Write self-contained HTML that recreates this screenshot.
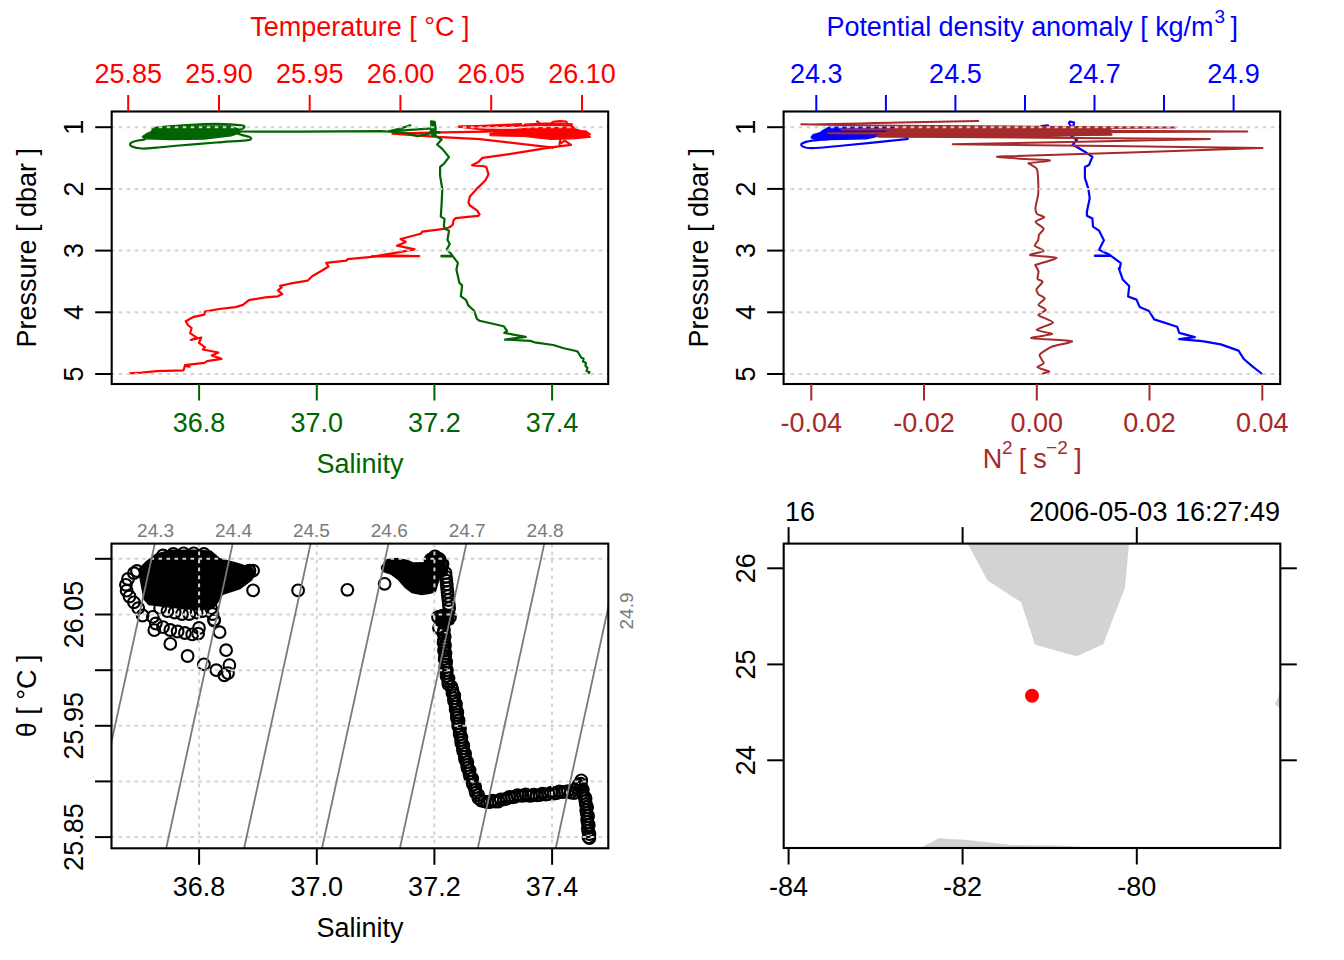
<!DOCTYPE html>
<html><head><meta charset="utf-8"><style>html,body{margin:0;padding:0;background:#fff;}svg{display:block;}</style></head>
<body><svg width="1344" height="960" viewBox="0 0 1344 960" font-family="Liberation Sans, sans-serif">
<rect width="1344" height="960" fill="#fff"/>
<clipPath id="c1"><rect x="111.7" y="111.5" width="496.50000000000006" height="272.5"/></clipPath>
<g clip-path="url(#c1)">
<polyline points="129.9,373.3 141.8,372.6 156.6,371.1 183.4,370.4 184.9,365.9 189.4,366.6 184.9,365.1 204.3,362.9 207.2,361.1 221.4,358.8 211.7,355.5 218.4,352.5 202.8,349.5 205.0,347.3 199.0,342.8 201.3,337.6 190.9,339.9 196.8,337.6 190.1,333.2 191.6,328.0 187.9,325.0 185.7,321.2 193.8,316.8 204.3,314.6 205.0,311.6 219.1,309.0 235.5,307.1 243.0,304.9 248.9,300.1 265.3,297.4 277.9,296.3 282.3,294.1 277.9,290.4 281.6,287.4 280.1,285.9 289.8,283.7 307.6,280.7 312.1,276.2 322.5,270.3 328.5,266.5 326.2,262.8 346.3,260.6 347.8,259.1 371.6,256.9 393.9,253.2 414.8,249.4 396.9,245.7 405.8,242.0 400.6,239.0 420.7,233.8 422.2,231.6 446.0,228.6 449.8,227.1 452.7,224.8 453.5,220.4 455.7,218.1 478.0,215.9 479.5,214.4 477.3,210.7 469.9,205.5 468.4,202.5 469.9,196.5 478.0,187.6 485.5,180.2 488.5,174.2 486.2,166.8 482.5,166.0 472.1,165.3 478.0,162.3 482.5,157.9 509.3,154.1 551.0,147.4 571.0,144.8 564.8,140.6 559.5,144.1 560.4,139.7" fill="none" stroke="#ff0000" stroke-width="2.2" stroke-linejoin="round" stroke-linecap="round"/>
<polyline points="371.6,256.4 419.2,256.2 385.0,255.3" fill="none" stroke="#ff0000" stroke-width="2.2" stroke-linejoin="round" stroke-linecap="round"/>
<polyline points="553.2,147.7 480.0,139.2 437.0,136.9 392.5,133.6 430.0,132.7 500.0,131.3 514.8,131.2" fill="none" stroke="#ff0000" stroke-width="2.2" stroke-linejoin="round" stroke-linecap="round"/>
<polyline points="458.6,126.8 490.0,125.6 521.0,124.2" fill="none" stroke="#ff0000" stroke-width="2.2" stroke-linejoin="round" stroke-linecap="round"/>
<polyline points="458.6,126.8 500.0,131.5 520.0,133.0" fill="none" stroke="#ff0000" stroke-width="1.8" stroke-linejoin="round" stroke-linecap="round"/>
<polygon points="490.0,133.5 505.0,130.5 520.0,128.8 545.0,127.2 565.0,127.5 576.0,129.0 585.0,131.8 590.5,137.2 573.0,138.8 551.0,139.3 537.0,138.0 524.0,136.3 500.0,136.0 490.0,135.6" fill="#ff0000" stroke="#ff0000" stroke-width="1.2" stroke-linejoin="round"/>
<polyline points="458.6,126.6 490.0,126.2 520.0,125.8 545.0,124.6 560.0,125.2 572.0,126.5 576.0,130.5" fill="none" stroke="#ff0000" stroke-width="2.2" stroke-linejoin="round" stroke-linecap="round"/>
<polyline points="480.0,129.5 500.0,129.8 535.0,130.0" fill="none" stroke="#ff0000" stroke-width="2.0" stroke-linejoin="round" stroke-linecap="round"/>
<polyline points="525.0,124.5 545.0,123.6 560.0,123.5 572.0,124.2" fill="none" stroke="#ff0000" stroke-width="2.0" stroke-linejoin="round" stroke-linecap="round"/>
<polyline points="537.1,121.4 540.5,124.2" fill="none" stroke="#ff0000" stroke-width="2.4" stroke-linejoin="round" stroke-linecap="round"/>
<polyline points="550.0,124.5 553.0,121.8 560.0,120.9 566.0,121.4 568.0,124.5 573.0,126.8 575.5,130.5" fill="none" stroke="#ff0000" stroke-width="2.0" stroke-linejoin="round" stroke-linecap="round"/>
<polyline points="575.0,131.5 586.0,131.3 590.0,134.5" fill="none" stroke="#ff0000" stroke-width="2.0" stroke-linejoin="round" stroke-linecap="round"/>
<polyline points="588.7,373.1 589.5,372.0 586.5,371.0 587.5,368.0 585.4,365.7 586.0,363.0 583.0,361.5 583.6,358.5 581.3,357.7 578.5,353.0 577.8,351.8 576.0,351.0 563.9,348.3 553.2,345.0 534.5,342.3 530.4,340.9 505.0,339.6 525.8,336.9 504.3,332.9 507.0,330.9 503.7,326.2 479.6,320.8 476.9,318.8 474.2,310.8 468.2,305.4 466.2,300.1 460.8,296.1 461.5,290.7 462.1,285.4 459.4,282.9 456.4,269.5 457.9,262.8 450.5,253.2 446.8,249.4 449.7,244.2 447.5,239.8 449.0,230.8 446.0,229.3 443.8,226.3 444.6,218.9 440.8,216.6 441.6,204.0 442.3,189.1 440.1,175.7 440.1,166.8 443.8,163.8 449.0,157.1 442.3,148.9 437.1,144.5 441.6,139.5 436.2,136.4 433.0,131.0 434.0,122.0 431.0,121.5 432.0,128.0 430.0,133.5 417.5,136.2 405.0,132.9 389.0,131.5 380.0,131.1 300.0,131.6 238.5,131.5" fill="none" stroke="#006400" stroke-width="2.2" stroke-linejoin="round" stroke-linecap="round"/>
<polyline points="441.5,256.1 452.0,256.1" fill="none" stroke="#006400" stroke-width="2.6" stroke-linejoin="round" stroke-linecap="round"/>
<polyline points="389.0,131.3 397.9,129.3 410.4,125.3 403.2,127.8 389.0,131.3 431.8,128.4" fill="none" stroke="#006400" stroke-width="2.2" stroke-linejoin="round" stroke-linecap="round"/>
<polyline points="433.6,132.0 439.4,132.4" fill="none" stroke="#006400" stroke-width="2.6" stroke-linejoin="round" stroke-linecap="round"/>
<polygon points="431.0,121.2 435.0,121.5 436.0,128.0 435.5,136.0 432.0,136.0 431.5,128.0" fill="#006400" stroke="#006400" stroke-width="1.5" stroke-linejoin="round"/>
<polygon points="153.7,128.4 186.4,126.1 231.0,126.1 238.5,129.1 240.0,132.8 231.0,135.8 204.3,139.0 171.5,139.5 144.7,138.8 142.5,136.6 146.2,134.0 152.2,131.3" fill="#006400" stroke="#006400" stroke-width="1.5" stroke-linejoin="round"/>
<path d="M238.5,129.9 C239.4,129.6 243.3,128.6 243.8,127.8 C244.3,127.0 246.1,126.1 241.5,125.4 C236.9,124.8 225.4,124.0 216.2,123.9 C207.0,123.9 196.3,124.5 186.4,125.1 C176.5,125.7 162.3,126.8 156.6,127.6 C150.9,128.4 152.9,129.5 152.2,129.9" fill="none" stroke="#006400" stroke-width="2.2" stroke-linejoin="round" stroke-linecap="round"/>
<path d="M238.5,134.0 C240.2,134.5 246.9,136.0 249.0,136.8 C251.1,137.6 251.5,138.2 251.0,138.8 C250.5,139.4 251.8,139.7 246.0,140.3 C240.2,140.9 227.2,141.6 216.0,142.5 C204.8,143.4 188.9,144.6 179.0,145.5 C169.1,146.4 162.8,147.2 156.6,147.7 C150.4,148.2 145.8,148.7 141.8,148.5 C137.8,148.3 134.4,147.6 132.5,146.8 C130.6,146.0 129.6,144.6 130.2,143.6 C130.8,142.6 133.4,141.7 135.8,141.0 C138.2,140.3 143.2,139.8 144.7,139.5" fill="none" stroke="#006400" stroke-width="2.2" stroke-linejoin="round" stroke-linecap="round"/>
</g>
<line x1="110.7" y1="127.2" x2="608.2" y2="127.2" stroke="#d3d3d3" stroke-width="2" stroke-dasharray="3.6,4.4"/>
<line x1="110.7" y1="188.9" x2="608.2" y2="188.9" stroke="#d3d3d3" stroke-width="2" stroke-dasharray="3.6,4.4"/>
<line x1="110.7" y1="250.60000000000002" x2="608.2" y2="250.60000000000002" stroke="#d3d3d3" stroke-width="2" stroke-dasharray="3.6,4.4"/>
<line x1="110.7" y1="312.3" x2="608.2" y2="312.3" stroke="#d3d3d3" stroke-width="2" stroke-dasharray="3.6,4.4"/>
<line x1="110.7" y1="374.0" x2="608.2" y2="374.0" stroke="#d3d3d3" stroke-width="2" stroke-dasharray="3.6,4.4"/>
<rect x="111.7" y="111.5" width="496.50000000000006" height="272.5" fill="none" stroke="#000" stroke-width="2.1"/>
<line x1="95.2" y1="127.2" x2="111.7" y2="127.2" stroke="#000" stroke-width="2"/>
<text transform="translate(83.0,127.2) rotate(-90)" text-anchor="middle" font-size="27" fill="#000">1</text>
<line x1="95.2" y1="188.9" x2="111.7" y2="188.9" stroke="#000" stroke-width="2"/>
<text transform="translate(83.0,188.9) rotate(-90)" text-anchor="middle" font-size="27" fill="#000">2</text>
<line x1="95.2" y1="250.6" x2="111.7" y2="250.6" stroke="#000" stroke-width="2"/>
<text transform="translate(83.0,250.60000000000002) rotate(-90)" text-anchor="middle" font-size="27" fill="#000">3</text>
<line x1="95.2" y1="312.3" x2="111.7" y2="312.3" stroke="#000" stroke-width="2"/>
<text transform="translate(83.0,312.3) rotate(-90)" text-anchor="middle" font-size="27" fill="#000">4</text>
<line x1="95.2" y1="374.0" x2="111.7" y2="374.0" stroke="#000" stroke-width="2"/>
<text transform="translate(83.0,374.0) rotate(-90)" text-anchor="middle" font-size="27" fill="#000">5</text>
<text transform="translate(36.0,247.75) rotate(-90)" text-anchor="middle" font-size="27" fill="#000">Pressure [ dbar ]</text>
<line x1="128.2" y1="95.0" x2="128.2" y2="111.5" stroke="#ff0000" stroke-width="2"/>
<text x="128.2" y="83" text-anchor="middle" font-size="27" fill="#ff0000">25.85</text>
<line x1="219.0" y1="95.0" x2="219.0" y2="111.5" stroke="#ff0000" stroke-width="2"/>
<text x="218.9500000000013" y="83" text-anchor="middle" font-size="27" fill="#ff0000">25.90</text>
<line x1="309.7" y1="95.0" x2="309.7" y2="111.5" stroke="#ff0000" stroke-width="2"/>
<text x="309.70000000000255" y="83" text-anchor="middle" font-size="27" fill="#ff0000">25.95</text>
<line x1="400.4" y1="95.0" x2="400.4" y2="111.5" stroke="#ff0000" stroke-width="2"/>
<text x="400.44999999999743" y="83" text-anchor="middle" font-size="27" fill="#ff0000">26.00</text>
<line x1="491.2" y1="95.0" x2="491.2" y2="111.5" stroke="#ff0000" stroke-width="2"/>
<text x="491.1999999999987" y="83" text-anchor="middle" font-size="27" fill="#ff0000">26.05</text>
<line x1="582.0" y1="95.0" x2="582.0" y2="111.5" stroke="#ff0000" stroke-width="2"/>
<text x="581.95" y="83" text-anchor="middle" font-size="27" fill="#ff0000">26.10</text>
<text x="359.95000000000005" y="35.5" text-anchor="middle" font-size="27" fill="#ff0000">Temperature [ °C ]</text>
<line x1="199.1" y1="384.0" x2="199.1" y2="400.5" stroke="#006400" stroke-width="2"/>
<text x="199.1" y="431.5" text-anchor="middle" font-size="27" fill="#006400">36.8</text>
<line x1="316.8" y1="384.0" x2="316.8" y2="400.5" stroke="#006400" stroke-width="2"/>
<text x="316.7500000000017" y="431.5" text-anchor="middle" font-size="27" fill="#006400">37.0</text>
<line x1="434.4" y1="384.0" x2="434.4" y2="400.5" stroke="#006400" stroke-width="2"/>
<text x="434.3999999999992" y="431.5" text-anchor="middle" font-size="27" fill="#006400">37.2</text>
<line x1="552.1" y1="384.0" x2="552.1" y2="400.5" stroke="#006400" stroke-width="2"/>
<text x="552.0500000000009" y="431.5" text-anchor="middle" font-size="27" fill="#006400">37.4</text>
<text x="359.95000000000005" y="472.7" text-anchor="middle" font-size="27" fill="#006400">Salinity</text>
<clipPath id="c2"><rect x="783.6" y="111.5" width="496.6" height="272.5"/></clipPath>
<g clip-path="url(#c2)">
<polyline points="1073.0,128.0 1074.0,122.5 1070.0,121.5 1068.9,123.0 1072.0,128.0 1071.0,135.8 1076.9,140.0 1072.7,144.7 1078.1,147.7 1085.6,152.2 1092.4,156.9 1089.0,165.0 1084.9,167.1 1084.9,177.9 1088.3,188.7 1089.7,198.2 1086.9,211.7 1086.9,215.8 1092.4,218.5 1093.0,226.6 1099.1,230.7 1103.9,240.2 1099.1,249.7 1110.0,255.1 1115.4,259.1 1120.8,263.2 1119.4,270.0 1118.8,268.3 1122.9,279.8 1129.2,286.0 1128.1,296.5 1136.5,299.6 1139.6,306.9 1149.0,311.0 1154.2,319.4 1177.1,326.7 1179.2,332.9 1194.8,337.1 1179.2,339.2 1202.1,341.2 1220.8,344.4 1238.5,350.6 1243.8,359.0 1252.1,366.2 1261.5,373.5" fill="none" stroke="#0000ff" stroke-width="2.2" stroke-linejoin="round" stroke-linecap="round"/>
<polyline points="1095.1,255.7 1110.0,255.7" fill="none" stroke="#0000ff" stroke-width="2.6" stroke-linejoin="round" stroke-linecap="round"/>
<polyline points="1041.4,126.2 1048.0,125.3" fill="none" stroke="#0000ff" stroke-width="2.2" stroke-linejoin="round" stroke-linecap="round"/>
<polyline points="1073.0,127.8 990.0,127.5 907.0,127.3" fill="none" stroke="#0000ff" stroke-width="2.0" stroke-linejoin="round" stroke-linecap="round"/>
<polygon points="811.4,137.0 813.2,134.8 819.5,133.0 823.9,129.9 829.3,127.2 906.0,127.2 907.0,130.0 865.9,138.8 816.8,139.7 811.4,137.9" fill="#0000ff" stroke="#0000ff" stroke-width="1.5" stroke-linejoin="round"/>
<path d="M905.0,136.5 C905.2,136.8 907.1,137.8 906.5,138.3 C905.9,138.8 912.1,138.5 901.6,139.7 C891.1,140.9 858.5,144.1 843.6,145.5 C828.7,146.9 819.1,148.0 812.3,148.2 C805.5,148.4 804.7,147.3 803.0,146.5 C801.3,145.7 800.5,144.5 802.0,143.5 C803.5,142.5 807.6,141.3 812.3,140.6 C817.0,139.8 827.0,139.3 830.0,139.0" fill="none" stroke="#0000ff" stroke-width="2.2" stroke-linejoin="round" stroke-linecap="round"/>
<polygon points="897.6,126.4 1040.0,126.2 1111.6,127.5 1111.6,135.3 1040.0,137.2 878.7,137.6 875.0,136.0 890.0,130.0" fill="#a52a2a"/>
<path d="M978.3,121.1 C974.4,121.2 908.9,122.4 900.0,122.6 C891.1,122.8 800.9,124.1 800.9,124.3 C800.9,124.5 881.3,125.6 900.0,125.8 C918.7,126.0 1178.1,127.4 1175.2,127.6 C1172.3,127.8 838.1,129.3 841.7,129.5 C845.3,129.7 1248.0,131.3 1247.3,131.5 C1246.6,131.7 835.2,133.1 828.4,133.3 C821.6,133.5 1109.1,134.6 1111.6,134.8 C1114.1,135.0 873.8,136.4 878.7,136.6 C883.6,136.8 1206.2,138.7 1209.9,139.1 C1213.6,139.5 950.1,143.9 952.7,144.3 C955.3,144.7 1260.1,147.4 1262.4,148.0 C1264.7,148.6 1008.8,156.0 998.2,156.6 C987.6,157.2 1048.5,160.1 1050.0,160.4 C1051.5,160.7 1029.7,163.1 1028.6,163.2" fill="none" stroke="#a52a2a" stroke-width="2.0" stroke-linejoin="round" stroke-linecap="round"/>
<path d="M1028.6,163.2 C1028.9,163.4 1030.6,164.4 1031.4,165.0 C1032.2,165.6 1036.2,167.5 1036.9,169.1 C1037.6,170.7 1038.1,178.1 1038.2,180.6 C1038.3,183.1 1038.5,191.4 1038.2,194.1 C1037.9,196.8 1035.6,205.7 1035.5,207.7 C1035.4,209.7 1036.0,212.9 1036.9,213.8 C1037.8,214.8 1044.4,216.4 1044.3,217.2 C1044.2,218.0 1035.6,220.8 1035.5,221.9 C1035.4,223.1 1043.3,227.4 1043.6,228.7 C1043.9,230.0 1039.4,233.7 1038.9,234.8 C1038.4,236.0 1038.6,239.1 1038.2,240.2 C1037.8,241.3 1034.3,244.5 1034.8,245.6 C1035.3,246.7 1044.1,250.1 1043.6,251.0 C1043.1,251.9 1028.8,254.4 1030.1,255.1 C1031.4,255.8 1055.8,256.9 1056.5,257.8 C1057.2,258.7 1039.0,263.8 1036.9,264.5 C1034.8,265.2 1035.2,264.5 1035.4,265.2 C1035.6,265.9 1038.3,270.1 1038.5,271.5 C1038.7,272.9 1037.1,277.7 1037.5,278.8 C1037.9,279.8 1042.8,280.9 1042.7,281.9 C1042.6,282.9 1036.9,287.9 1036.5,289.2 C1036.1,290.4 1037.7,293.5 1038.5,294.4 C1039.3,295.3 1044.8,297.5 1044.8,298.5 C1044.8,299.5 1038.4,303.7 1038.5,304.8 C1038.6,305.9 1045.8,309.0 1045.8,310.0 C1045.8,311.0 1037.8,313.9 1038.5,315.2 C1039.2,316.4 1053.3,321.0 1053.1,322.5 C1052.9,324.0 1036.6,328.7 1036.5,329.8 C1036.4,330.9 1052.6,333.2 1052.1,334.0 C1051.6,334.8 1029.3,337.4 1031.2,338.1 C1033.2,338.8 1069.8,340.4 1071.9,341.2 C1074.0,342.1 1055.3,345.1 1052.1,346.5 C1048.9,347.9 1040.4,353.1 1039.6,354.8 C1038.8,356.5 1044.0,361.9 1043.8,363.1 C1043.5,364.4 1037.0,366.5 1037.5,367.3 C1038.0,368.1 1048.5,370.9 1049.0,371.5 C1049.5,372.1 1043.3,373.3 1042.7,373.5" fill="none" stroke="#a52a2a" stroke-width="2.0" stroke-linejoin="round" stroke-linecap="round"/>
</g>
<line x1="782.6" y1="127.2" x2="1280.2" y2="127.2" stroke="#d3d3d3" stroke-width="2" stroke-dasharray="3.6,4.4"/>
<line x1="782.6" y1="188.9" x2="1280.2" y2="188.9" stroke="#d3d3d3" stroke-width="2" stroke-dasharray="3.6,4.4"/>
<line x1="782.6" y1="250.60000000000002" x2="1280.2" y2="250.60000000000002" stroke="#d3d3d3" stroke-width="2" stroke-dasharray="3.6,4.4"/>
<line x1="782.6" y1="312.3" x2="1280.2" y2="312.3" stroke="#d3d3d3" stroke-width="2" stroke-dasharray="3.6,4.4"/>
<line x1="782.6" y1="374.0" x2="1280.2" y2="374.0" stroke="#d3d3d3" stroke-width="2" stroke-dasharray="3.6,4.4"/>
<rect x="783.6" y="111.5" width="496.6" height="272.5" fill="none" stroke="#000" stroke-width="2.1"/>
<line x1="767.1" y1="127.2" x2="783.6" y2="127.2" stroke="#000" stroke-width="2"/>
<text transform="translate(754.9,127.2) rotate(-90)" text-anchor="middle" font-size="27" fill="#000">1</text>
<line x1="767.1" y1="188.9" x2="783.6" y2="188.9" stroke="#000" stroke-width="2"/>
<text transform="translate(754.9,188.9) rotate(-90)" text-anchor="middle" font-size="27" fill="#000">2</text>
<line x1="767.1" y1="250.6" x2="783.6" y2="250.6" stroke="#000" stroke-width="2"/>
<text transform="translate(754.9,250.60000000000002) rotate(-90)" text-anchor="middle" font-size="27" fill="#000">3</text>
<line x1="767.1" y1="312.3" x2="783.6" y2="312.3" stroke="#000" stroke-width="2"/>
<text transform="translate(754.9,312.3) rotate(-90)" text-anchor="middle" font-size="27" fill="#000">4</text>
<line x1="767.1" y1="374.0" x2="783.6" y2="374.0" stroke="#000" stroke-width="2"/>
<text transform="translate(754.9,374.0) rotate(-90)" text-anchor="middle" font-size="27" fill="#000">5</text>
<text transform="translate(707.9,247.75) rotate(-90)" text-anchor="middle" font-size="27" fill="#000">Pressure [ dbar ]</text>
<line x1="816.3" y1="95.0" x2="816.3" y2="111.5" stroke="#0000ff" stroke-width="2"/>
<text x="816.3" y="83" text-anchor="middle" font-size="27" fill="#0000ff">24.3</text>
<line x1="885.9" y1="95.0" x2="885.9" y2="111.5" stroke="#0000ff" stroke-width="2"/>
<line x1="955.4" y1="95.0" x2="955.4" y2="111.5" stroke="#0000ff" stroke-width="2"/>
<text x="955.3999999999994" y="83" text-anchor="middle" font-size="27" fill="#0000ff">24.5</text>
<line x1="1025.0" y1="95.0" x2="1025.0" y2="111.5" stroke="#0000ff" stroke-width="2"/>
<line x1="1094.5" y1="95.0" x2="1094.5" y2="111.5" stroke="#0000ff" stroke-width="2"/>
<text x="1094.499999999999" y="83" text-anchor="middle" font-size="27" fill="#0000ff">24.7</text>
<line x1="1164.0" y1="95.0" x2="1164.0" y2="111.5" stroke="#0000ff" stroke-width="2"/>
<line x1="1233.6" y1="95.0" x2="1233.6" y2="111.5" stroke="#0000ff" stroke-width="2"/>
<text x="1233.6000000000008" y="83" text-anchor="middle" font-size="27" fill="#0000ff">24.9</text>
<text x="826.5" y="35.5" font-size="27" fill="#0000ff" textLength="387" lengthAdjust="spacing">Potential density anomaly [ kg/m</text>
<text x="1214.5" y="22.5" font-size="19" fill="#0000ff">3</text>
<text x="1230.5" y="35.5" font-size="27" fill="#0000ff">]</text>
<line x1="811.3" y1="384.0" x2="811.3" y2="400.5" stroke="#a52a2a" stroke-width="2"/>
<text x="811.3" y="431.5" text-anchor="middle" font-size="27" fill="#a52a2a">-0.04</text>
<line x1="924.0" y1="384.0" x2="924.0" y2="400.5" stroke="#a52a2a" stroke-width="2"/>
<text x="924.05" y="431.5" text-anchor="middle" font-size="27" fill="#a52a2a">-0.02</text>
<line x1="1036.8" y1="384.0" x2="1036.8" y2="400.5" stroke="#a52a2a" stroke-width="2"/>
<text x="1036.8" y="431.5" text-anchor="middle" font-size="27" fill="#a52a2a">0.00</text>
<line x1="1149.5" y1="384.0" x2="1149.5" y2="400.5" stroke="#a52a2a" stroke-width="2"/>
<text x="1149.55" y="431.5" text-anchor="middle" font-size="27" fill="#a52a2a">0.02</text>
<line x1="1262.3" y1="384.0" x2="1262.3" y2="400.5" stroke="#a52a2a" stroke-width="2"/>
<text x="1262.3" y="431.5" text-anchor="middle" font-size="27" fill="#a52a2a">0.04</text>
<text x="982.8" y="467.5" font-size="27" fill="#a52a2a">N</text>
<text x="1001.9" y="454" font-size="19" fill="#a52a2a">2</text>
<text x="1018.8" y="467.5" font-size="27" fill="#a52a2a">[</text>
<text x="1033.3" y="467.5" font-size="27" fill="#a52a2a">s</text>
<text x="1046.1" y="454" font-size="19" fill="#a52a2a">−2</text>
<text x="1074.2" y="467.5" font-size="27" fill="#a52a2a">]</text>
<clipPath id="c3"><rect x="111.5" y="543.6" width="496.79999999999995" height="304.69999999999993"/></clipPath>
<g clip-path="url(#c3)">
<polygon points="139.0,568.0 145.5,561.5 155.8,553.5 170.3,549.8 193.7,549.5 211.2,550.6 219.9,557.9 236.0,562.2 252.0,567.3 256.4,573.2 252.0,580.5 240.4,589.2 222.9,595.0 218.5,602.3 214.1,608.2 199.5,610.4 173.3,608.2 148.5,605.3 143.4,599.4 141.2,587.8 139.0,576.1" fill="#000"/>
<circle cx="163.0" cy="555.5" r="5.85" fill="none" stroke="#000" stroke-width="2.1"/>
<circle cx="173.3" cy="554.0" r="5.85" fill="none" stroke="#000" stroke-width="2.1"/>
<circle cx="183.5" cy="553.3" r="5.85" fill="none" stroke="#000" stroke-width="2.1"/>
<circle cx="193.7" cy="553.3" r="5.85" fill="none" stroke="#000" stroke-width="2.1"/>
<circle cx="203.9" cy="554.0" r="5.85" fill="none" stroke="#000" stroke-width="2.1"/>
<circle cx="137.0" cy="571.0" r="5.85" fill="none" stroke="#000" stroke-width="2.1"/>
<circle cx="249.1" cy="571.0" r="5.85" fill="none" stroke="#000" stroke-width="2.1"/>
<circle cx="253.1" cy="570.7" r="5.85" fill="none" stroke="#000" stroke-width="2.1"/>
<circle cx="249.5" cy="570.7" r="5.85" fill="none" stroke="#000" stroke-width="2.1"/>
<circle cx="133.9" cy="573.2" r="5.85" fill="none" stroke="#000" stroke-width="2.1"/>
<circle cx="128.0" cy="579.0" r="5.85" fill="none" stroke="#000" stroke-width="2.1"/>
<circle cx="125.9" cy="584.8" r="5.85" fill="none" stroke="#000" stroke-width="2.1"/>
<circle cx="126.6" cy="590.7" r="5.85" fill="none" stroke="#000" stroke-width="2.1"/>
<circle cx="129.5" cy="596.5" r="5.85" fill="none" stroke="#000" stroke-width="2.1"/>
<circle cx="133.9" cy="602.3" r="5.85" fill="none" stroke="#000" stroke-width="2.1"/>
<circle cx="138.3" cy="608.2" r="5.85" fill="none" stroke="#000" stroke-width="2.1"/>
<circle cx="142.6" cy="615.5" r="5.85" fill="none" stroke="#000" stroke-width="2.1"/>
<circle cx="152.8" cy="616.9" r="5.85" fill="none" stroke="#000" stroke-width="2.1"/>
<circle cx="155.8" cy="623.5" r="5.85" fill="none" stroke="#000" stroke-width="2.1"/>
<circle cx="163.0" cy="627.1" r="5.85" fill="none" stroke="#000" stroke-width="2.1"/>
<circle cx="170.3" cy="630.0" r="5.85" fill="none" stroke="#000" stroke-width="2.1"/>
<circle cx="177.6" cy="631.5" r="5.85" fill="none" stroke="#000" stroke-width="2.1"/>
<circle cx="184.9" cy="633.0" r="5.85" fill="none" stroke="#000" stroke-width="2.1"/>
<circle cx="192.2" cy="634.4" r="5.85" fill="none" stroke="#000" stroke-width="2.1"/>
<circle cx="198.1" cy="633.7" r="5.85" fill="none" stroke="#000" stroke-width="2.1"/>
<circle cx="199.0" cy="628.0" r="5.85" fill="none" stroke="#000" stroke-width="2.1"/>
<circle cx="160.1" cy="608.2" r="5.85" fill="none" stroke="#000" stroke-width="2.1"/>
<circle cx="167.4" cy="611.1" r="5.85" fill="none" stroke="#000" stroke-width="2.1"/>
<circle cx="174.7" cy="612.5" r="5.85" fill="none" stroke="#000" stroke-width="2.1"/>
<circle cx="182.0" cy="614.0" r="5.85" fill="none" stroke="#000" stroke-width="2.1"/>
<circle cx="189.3" cy="614.0" r="5.85" fill="none" stroke="#000" stroke-width="2.1"/>
<circle cx="196.6" cy="612.5" r="5.85" fill="none" stroke="#000" stroke-width="2.1"/>
<circle cx="202.4" cy="611.1" r="5.85" fill="none" stroke="#000" stroke-width="2.1"/>
<circle cx="211.2" cy="608.2" r="5.85" fill="none" stroke="#000" stroke-width="2.1"/>
<circle cx="212.6" cy="614.0" r="5.85" fill="none" stroke="#000" stroke-width="2.1"/>
<circle cx="214.1" cy="619.8" r="5.85" fill="none" stroke="#000" stroke-width="2.1"/>
<circle cx="253.1" cy="590.4" r="5.85" fill="none" stroke="#000" stroke-width="2.1"/>
<circle cx="154.3" cy="630.1" r="5.85" fill="none" stroke="#000" stroke-width="2.1"/>
<circle cx="170.3" cy="643.9" r="5.85" fill="none" stroke="#000" stroke-width="2.1"/>
<circle cx="187.6" cy="656.0" r="5.85" fill="none" stroke="#000" stroke-width="2.1"/>
<circle cx="203.9" cy="664.3" r="5.85" fill="none" stroke="#000" stroke-width="2.1"/>
<circle cx="226.1" cy="650.2" r="5.85" fill="none" stroke="#000" stroke-width="2.1"/>
<circle cx="229.4" cy="665.1" r="5.85" fill="none" stroke="#000" stroke-width="2.1"/>
<circle cx="216.3" cy="670.2" r="5.85" fill="none" stroke="#000" stroke-width="2.1"/>
<circle cx="224.3" cy="675.3" r="5.85" fill="none" stroke="#000" stroke-width="2.1"/>
<circle cx="228.0" cy="673.1" r="5.85" fill="none" stroke="#000" stroke-width="2.1"/>
<circle cx="219.6" cy="632.2" r="5.85" fill="none" stroke="#000" stroke-width="2.1"/>
<circle cx="214.1" cy="620.6" r="5.85" fill="none" stroke="#000" stroke-width="2.1"/>
<circle cx="298.1" cy="590.4" r="5.85" fill="none" stroke="#000" stroke-width="2.1"/>
<circle cx="347.4" cy="589.8" r="5.85" fill="none" stroke="#000" stroke-width="2.1"/>
<circle cx="384.6" cy="583.8" r="5.85" fill="none" stroke="#000" stroke-width="2.1"/>
<polygon points="380.8,566.5 386.7,559.0 396.7,557.8 407.5,559.8 413.3,562.3 424.2,561.9 428.3,554.0 435.0,550.2 441.7,553.2 444.2,559.8 448.3,569.0 447.5,575.7 440.0,578.0 436.0,592.0 430.0,594.0 421.7,595.2 411.7,593.2 405.0,588.2 397.5,579.8 390.8,574.8 383.3,572.3 380.8,569.0" fill="#000"/>
<circle cx="435.0" cy="557.0" r="5.85" fill="none" stroke="#000" stroke-width="3.2"/>
<circle cx="439.0" cy="559.5" r="5.85" fill="none" stroke="#000" stroke-width="3.2"/>
<circle cx="431.0" cy="560.0" r="5.85" fill="none" stroke="#000" stroke-width="3.2"/>
<circle cx="442.0" cy="564.0" r="5.85" fill="none" stroke="#000" stroke-width="3.2"/>
<circle cx="445.5" cy="573.0" r="5.85" fill="none" stroke="#000" stroke-width="2.1"/>
<circle cx="445.9" cy="576.8" r="5.85" fill="none" stroke="#000" stroke-width="2.1"/>
<circle cx="446.3" cy="580.6" r="5.85" fill="none" stroke="#000" stroke-width="2.1"/>
<circle cx="446.7" cy="584.4" r="5.85" fill="none" stroke="#000" stroke-width="2.1"/>
<circle cx="447.1" cy="588.2" r="5.85" fill="none" stroke="#000" stroke-width="2.1"/>
<circle cx="447.5" cy="592.0" r="5.85" fill="none" stroke="#000" stroke-width="2.1"/>
<circle cx="447.9" cy="596.0" r="5.85" fill="none" stroke="#000" stroke-width="2.1"/>
<circle cx="448.4" cy="600.0" r="5.85" fill="none" stroke="#000" stroke-width="2.1"/>
<circle cx="448.8" cy="604.0" r="5.85" fill="none" stroke="#000" stroke-width="2.1"/>
<circle cx="449.2" cy="608.0" r="5.85" fill="none" stroke="#000" stroke-width="2.1"/>
<polygon points="434.0,614.0 440.0,609.0 452.0,609.0 455.0,615.0 454.0,624.0 446.0,628.0 436.0,626.0" fill="#000"/>
<circle cx="438.0" cy="617.0" r="5.85" fill="none" stroke="#000" stroke-width="2.1"/>
<circle cx="450.0" cy="617.0" r="5.85" fill="none" stroke="#000" stroke-width="2.1"/>
<circle cx="444.0" cy="623.0" r="5.85" fill="none" stroke="#000" stroke-width="2.1"/>
<circle cx="439.0" cy="628.0" r="5.85" fill="none" stroke="#000" stroke-width="2.1"/>
<circle cx="444.0" cy="630.0" r="5.85" fill="none" stroke="#000" stroke-width="2.1"/>
<circle cx="443.3" cy="633.3" r="5.85" fill="none" stroke="#000" stroke-width="2.1"/>
<circle cx="444.7" cy="636.7" r="5.85" fill="none" stroke="#000" stroke-width="2.1"/>
<circle cx="444.0" cy="640.0" r="5.85" fill="none" stroke="#000" stroke-width="2.1"/>
<circle cx="443.5" cy="642.7" r="5.85" fill="none" stroke="#000" stroke-width="2.1"/>
<circle cx="445.0" cy="645.3" r="5.85" fill="none" stroke="#000" stroke-width="2.1"/>
<circle cx="444.5" cy="648.0" r="5.85" fill="none" stroke="#000" stroke-width="2.1"/>
<circle cx="444.0" cy="650.7" r="5.85" fill="none" stroke="#000" stroke-width="2.1"/>
<circle cx="445.5" cy="653.3" r="5.85" fill="none" stroke="#000" stroke-width="2.1"/>
<circle cx="445.0" cy="656.0" r="5.85" fill="none" stroke="#000" stroke-width="2.1"/>
<circle cx="444.6" cy="658.9" r="5.85" fill="none" stroke="#000" stroke-width="2.1"/>
<circle cx="446.2" cy="661.6" r="5.85" fill="none" stroke="#000" stroke-width="2.1"/>
<circle cx="445.7" cy="664.5" r="5.85" fill="none" stroke="#000" stroke-width="2.1"/>
<circle cx="445.3" cy="667.4" r="5.85" fill="none" stroke="#000" stroke-width="2.1"/>
<circle cx="447.0" cy="670.1" r="5.85" fill="none" stroke="#000" stroke-width="2.1"/>
<circle cx="446.4" cy="673.0" r="5.85" fill="none" stroke="#000" stroke-width="2.1"/>
<circle cx="446.5" cy="675.9" r="5.85" fill="none" stroke="#000" stroke-width="2.1"/>
<circle cx="448.5" cy="678.3" r="5.85" fill="none" stroke="#000" stroke-width="2.1"/>
<circle cx="448.3" cy="681.3" r="5.85" fill="none" stroke="#000" stroke-width="2.1"/>
<circle cx="448.4" cy="684.3" r="5.85" fill="none" stroke="#000" stroke-width="2.1"/>
<circle cx="451.4" cy="686.6" r="5.85" fill="none" stroke="#000" stroke-width="2.1"/>
<circle cx="452.4" cy="690.0" r="5.85" fill="none" stroke="#000" stroke-width="2.1"/>
<circle cx="452.4" cy="692.9" r="5.85" fill="none" stroke="#000" stroke-width="2.1"/>
<circle cx="454.3" cy="695.4" r="5.85" fill="none" stroke="#000" stroke-width="2.1"/>
<circle cx="454.0" cy="698.4" r="5.85" fill="none" stroke="#000" stroke-width="2.1"/>
<circle cx="454.1" cy="701.3" r="5.85" fill="none" stroke="#000" stroke-width="2.1"/>
<circle cx="456.0" cy="703.8" r="5.85" fill="none" stroke="#000" stroke-width="2.1"/>
<circle cx="455.7" cy="706.7" r="5.85" fill="none" stroke="#000" stroke-width="2.1"/>
<circle cx="455.6" cy="709.6" r="5.85" fill="none" stroke="#000" stroke-width="2.1"/>
<circle cx="457.4" cy="712.1" r="5.85" fill="none" stroke="#000" stroke-width="2.1"/>
<circle cx="456.9" cy="715.0" r="5.85" fill="none" stroke="#000" stroke-width="2.1"/>
<circle cx="456.9" cy="717.9" r="5.85" fill="none" stroke="#000" stroke-width="2.1"/>
<circle cx="458.6" cy="720.4" r="5.85" fill="none" stroke="#000" stroke-width="2.1"/>
<circle cx="458.2" cy="723.3" r="5.85" fill="none" stroke="#000" stroke-width="2.1"/>
<circle cx="458.2" cy="726.2" r="5.85" fill="none" stroke="#000" stroke-width="2.1"/>
<circle cx="460.0" cy="728.7" r="5.85" fill="none" stroke="#000" stroke-width="2.1"/>
<circle cx="459.6" cy="731.7" r="5.85" fill="none" stroke="#000" stroke-width="2.1"/>
<circle cx="459.7" cy="734.5" r="5.85" fill="none" stroke="#000" stroke-width="2.1"/>
<circle cx="461.5" cy="737.1" r="5.85" fill="none" stroke="#000" stroke-width="2.1"/>
<circle cx="461.1" cy="740.0" r="5.85" fill="none" stroke="#000" stroke-width="2.1"/>
<circle cx="461.3" cy="742.9" r="5.85" fill="none" stroke="#000" stroke-width="2.1"/>
<circle cx="463.2" cy="745.4" r="5.85" fill="none" stroke="#000" stroke-width="2.1"/>
<circle cx="462.9" cy="748.4" r="5.85" fill="none" stroke="#000" stroke-width="2.1"/>
<circle cx="463.2" cy="751.3" r="5.85" fill="none" stroke="#000" stroke-width="2.1"/>
<circle cx="465.1" cy="753.7" r="5.85" fill="none" stroke="#000" stroke-width="2.1"/>
<circle cx="464.8" cy="756.8" r="5.85" fill="none" stroke="#000" stroke-width="2.1"/>
<circle cx="465.2" cy="759.6" r="5.85" fill="none" stroke="#000" stroke-width="2.1"/>
<circle cx="467.3" cy="762.0" r="5.85" fill="none" stroke="#000" stroke-width="2.1"/>
<circle cx="467.1" cy="765.1" r="5.85" fill="none" stroke="#000" stroke-width="2.1"/>
<circle cx="467.5" cy="767.9" r="5.85" fill="none" stroke="#000" stroke-width="2.1"/>
<circle cx="469.6" cy="770.3" r="5.85" fill="none" stroke="#000" stroke-width="2.1"/>
<circle cx="469.4" cy="773.4" r="5.85" fill="none" stroke="#000" stroke-width="2.1"/>
<circle cx="470.0" cy="776.3" r="5.85" fill="none" stroke="#000" stroke-width="2.1"/>
<circle cx="472.3" cy="778.6" r="5.85" fill="none" stroke="#000" stroke-width="2.1"/>
<circle cx="472.3" cy="781.7" r="5.85" fill="none" stroke="#000" stroke-width="2.1"/>
<circle cx="473.0" cy="784.6" r="5.85" fill="none" stroke="#000" stroke-width="2.1"/>
<circle cx="475.2" cy="787.0" r="5.85" fill="none" stroke="#000" stroke-width="2.1"/>
<circle cx="475.2" cy="790.1" r="5.85" fill="none" stroke="#000" stroke-width="2.1"/>
<circle cx="475.9" cy="792.9" r="5.85" fill="none" stroke="#000" stroke-width="2.1"/>
<circle cx="478.2" cy="795.0" r="5.85" fill="none" stroke="#000" stroke-width="2.1"/>
<circle cx="478.4" cy="798.2" r="5.85" fill="none" stroke="#000" stroke-width="2.1"/>
<circle cx="481.2" cy="800.5" r="5.85" fill="none" stroke="#000" stroke-width="2.1"/>
<circle cx="484.4" cy="801.3" r="5.85" fill="none" stroke="#000" stroke-width="2.1"/>
<circle cx="487.2" cy="802.2" r="5.85" fill="none" stroke="#000" stroke-width="2.1"/>
<circle cx="489.9" cy="802.2" r="5.85" fill="none" stroke="#000" stroke-width="2.1"/>
<circle cx="492.5" cy="800.7" r="5.85" fill="none" stroke="#000" stroke-width="2.1"/>
<circle cx="495.3" cy="801.5" r="5.85" fill="none" stroke="#000" stroke-width="2.1"/>
<circle cx="498.2" cy="801.5" r="5.85" fill="none" stroke="#000" stroke-width="2.1"/>
<circle cx="500.7" cy="799.3" r="5.85" fill="none" stroke="#000" stroke-width="2.1"/>
<circle cx="504.0" cy="799.4" r="5.85" fill="none" stroke="#000" stroke-width="2.1"/>
<circle cx="506.9" cy="798.6" r="5.85" fill="none" stroke="#000" stroke-width="2.1"/>
<circle cx="509.3" cy="796.8" r="5.85" fill="none" stroke="#000" stroke-width="2.1"/>
<circle cx="512.2" cy="797.3" r="5.85" fill="none" stroke="#000" stroke-width="2.1"/>
<circle cx="514.9" cy="796.9" r="5.85" fill="none" stroke="#000" stroke-width="2.1"/>
<circle cx="517.4" cy="795.1" r="5.85" fill="none" stroke="#000" stroke-width="2.1"/>
<circle cx="520.2" cy="795.6" r="5.85" fill="none" stroke="#000" stroke-width="2.1"/>
<circle cx="522.9" cy="795.8" r="5.85" fill="none" stroke="#000" stroke-width="2.1"/>
<circle cx="525.6" cy="794.5" r="5.85" fill="none" stroke="#000" stroke-width="2.1"/>
<circle cx="528.2" cy="795.7" r="5.85" fill="none" stroke="#000" stroke-width="2.1"/>
<circle cx="530.9" cy="795.8" r="5.85" fill="none" stroke="#000" stroke-width="2.1"/>
<circle cx="533.5" cy="794.6" r="5.85" fill="none" stroke="#000" stroke-width="2.1"/>
<circle cx="536.6" cy="795.4" r="5.85" fill="none" stroke="#000" stroke-width="2.1"/>
<circle cx="539.6" cy="795.2" r="5.85" fill="none" stroke="#000" stroke-width="2.1"/>
<circle cx="542.4" cy="793.7" r="5.85" fill="none" stroke="#000" stroke-width="2.1"/>
<circle cx="545.5" cy="794.5" r="5.85" fill="none" stroke="#000" stroke-width="2.1"/>
<circle cx="548.5" cy="794.2" r="5.85" fill="none" stroke="#000" stroke-width="2.1"/>
<circle cx="551.3" cy="792.7" r="5.85" fill="none" stroke="#000" stroke-width="2.1"/>
<circle cx="554.1" cy="793.5" r="5.85" fill="none" stroke="#000" stroke-width="2.1"/>
<circle cx="556.8" cy="793.1" r="5.85" fill="none" stroke="#000" stroke-width="2.1"/>
<circle cx="559.3" cy="791.4" r="5.85" fill="none" stroke="#000" stroke-width="2.1"/>
<circle cx="562.2" cy="792.2" r="5.85" fill="none" stroke="#000" stroke-width="2.1"/>
<circle cx="564.7" cy="791.8" r="5.85" fill="none" stroke="#000" stroke-width="2.1"/>
<circle cx="567.9" cy="791.1" r="5.85" fill="none" stroke="#000" stroke-width="2.1"/>
<circle cx="570.7" cy="792.7" r="5.85" fill="none" stroke="#000" stroke-width="2.1"/>
<circle cx="574.1" cy="793.0" r="5.85" fill="none" stroke="#000" stroke-width="2.1"/>
<circle cx="574.5" cy="789.8" r="5.85" fill="none" stroke="#000" stroke-width="2.1"/>
<circle cx="576.9" cy="787.8" r="5.85" fill="none" stroke="#000" stroke-width="2.1"/>
<circle cx="578.3" cy="785.2" r="5.85" fill="none" stroke="#000" stroke-width="2.1"/>
<circle cx="581.3" cy="780.4" r="5.85" fill="none" stroke="#000" stroke-width="2.1"/>
<circle cx="580.6" cy="783.7" r="5.85" fill="none" stroke="#000" stroke-width="2.1"/>
<circle cx="581.1" cy="786.9" r="5.85" fill="none" stroke="#000" stroke-width="2.1"/>
<circle cx="582.8" cy="789.7" r="5.85" fill="none" stroke="#000" stroke-width="2.1"/>
<circle cx="582.5" cy="793.0" r="5.85" fill="none" stroke="#000" stroke-width="2.1"/>
<circle cx="583.6" cy="795.7" r="5.85" fill="none" stroke="#000" stroke-width="2.1"/>
<circle cx="585.6" cy="798.2" r="5.85" fill="none" stroke="#000" stroke-width="2.1"/>
<circle cx="585.4" cy="801.3" r="5.85" fill="none" stroke="#000" stroke-width="2.1"/>
<circle cx="585.8" cy="804.3" r="5.85" fill="none" stroke="#000" stroke-width="2.1"/>
<circle cx="587.2" cy="807.1" r="5.85" fill="none" stroke="#000" stroke-width="2.1"/>
<circle cx="586.2" cy="810.2" r="5.85" fill="none" stroke="#000" stroke-width="2.1"/>
<circle cx="586.7" cy="813.2" r="5.85" fill="none" stroke="#000" stroke-width="2.1"/>
<circle cx="588.1" cy="816.0" r="5.85" fill="none" stroke="#000" stroke-width="2.1"/>
<circle cx="587.1" cy="819.1" r="5.85" fill="none" stroke="#000" stroke-width="2.1"/>
<circle cx="587.5" cy="822.1" r="5.85" fill="none" stroke="#000" stroke-width="2.1"/>
<circle cx="588.8" cy="825.0" r="5.85" fill="none" stroke="#000" stroke-width="2.1"/>
<circle cx="587.8" cy="828.1" r="5.85" fill="none" stroke="#000" stroke-width="2.1"/>
<circle cx="588.2" cy="831.1" r="5.85" fill="none" stroke="#000" stroke-width="2.1"/>
<circle cx="589.5" cy="834.0" r="5.85" fill="none" stroke="#000" stroke-width="2.1"/>
<circle cx="588.5" cy="837.2" r="5.85" fill="none" stroke="#000" stroke-width="2.1"/>
<circle cx="589.4" cy="838.0" r="5.85" fill="none" stroke="#000" stroke-width="2.1"/>
<line x1="199.1" y1="543.6" x2="199.1" y2="848.3" stroke="#d3d3d3" stroke-width="2" stroke-dasharray="3.6,4.4"/>
<line x1="316.7500000000017" y1="543.6" x2="316.7500000000017" y2="848.3" stroke="#d3d3d3" stroke-width="2" stroke-dasharray="3.6,4.4"/>
<line x1="434.4000000000034" y1="543.6" x2="434.4000000000034" y2="848.3" stroke="#d3d3d3" stroke-width="2" stroke-dasharray="3.6,4.4"/>
<line x1="552.0500000000009" y1="543.6" x2="552.0500000000009" y2="848.3" stroke="#d3d3d3" stroke-width="2" stroke-dasharray="3.6,4.4"/>
<line x1="110.5" y1="837.0999999999992" x2="608.3" y2="837.0999999999992" stroke="#d3d3d3" stroke-width="2" stroke-dasharray="3.6,4.4"/>
<line x1="110.5" y1="781.4499999999985" x2="608.3" y2="781.4499999999985" stroke="#d3d3d3" stroke-width="2" stroke-dasharray="3.6,4.4"/>
<line x1="110.5" y1="725.7999999999977" x2="608.3" y2="725.7999999999977" stroke="#d3d3d3" stroke-width="2" stroke-dasharray="3.6,4.4"/>
<line x1="110.5" y1="670.1500000000008" x2="608.3" y2="670.1500000000008" stroke="#d3d3d3" stroke-width="2" stroke-dasharray="3.6,4.4"/>
<line x1="110.5" y1="614.5" x2="608.3" y2="614.5" stroke="#d3d3d3" stroke-width="2" stroke-dasharray="3.6,4.4"/>
<line x1="110.5" y1="558.8499999999992" x2="608.3" y2="558.8499999999992" stroke="#d3d3d3" stroke-width="2" stroke-dasharray="3.6,4.4"/>
<line x1="76.9" y1="543.6" x2="10.4" y2="848.3" stroke="#7a7a7a" stroke-width="1.8"/>
<line x1="154.8" y1="543.6" x2="88.3" y2="848.3" stroke="#7a7a7a" stroke-width="1.8"/>
<line x1="232.7" y1="543.6" x2="166.2" y2="848.3" stroke="#7a7a7a" stroke-width="1.8"/>
<line x1="310.6" y1="543.6" x2="244.1" y2="848.3" stroke="#7a7a7a" stroke-width="1.8"/>
<line x1="388.5" y1="543.6" x2="322.0" y2="848.3" stroke="#7a7a7a" stroke-width="1.8"/>
<line x1="466.4" y1="543.6" x2="399.9" y2="848.3" stroke="#7a7a7a" stroke-width="1.8"/>
<line x1="544.3" y1="543.6" x2="477.8" y2="848.3" stroke="#7a7a7a" stroke-width="1.8"/>
<line x1="622.2" y1="543.6" x2="555.7" y2="848.3" stroke="#7a7a7a" stroke-width="1.8"/>
<line x1="700.1" y1="543.6" x2="633.6" y2="848.3" stroke="#7a7a7a" stroke-width="1.8"/>
</g>
<rect x="111.5" y="543.6" width="496.79999999999995" height="304.69999999999993" fill="none" stroke="#000" stroke-width="2.1"/>
<line x1="95.0" y1="837.1" x2="111.5" y2="837.1" stroke="#000" stroke-width="2"/>
<line x1="95.0" y1="781.4" x2="111.5" y2="781.4" stroke="#000" stroke-width="2"/>
<line x1="95.0" y1="725.8" x2="111.5" y2="725.8" stroke="#000" stroke-width="2"/>
<line x1="95.0" y1="670.2" x2="111.5" y2="670.2" stroke="#000" stroke-width="2"/>
<line x1="95.0" y1="614.5" x2="111.5" y2="614.5" stroke="#000" stroke-width="2"/>
<line x1="95.0" y1="558.8" x2="111.5" y2="558.8" stroke="#000" stroke-width="2"/>
<text transform="translate(82.8,614.5) rotate(-90)" text-anchor="middle" font-size="27" fill="#000">26.05</text>
<text transform="translate(82.8,725.8000000000015) rotate(-90)" text-anchor="middle" font-size="27" fill="#000">25.95</text>
<text transform="translate(82.8,837.0999999999992) rotate(-90)" text-anchor="middle" font-size="27" fill="#000">25.85</text>
<text transform="translate(35.8,695.95) rotate(-90)" text-anchor="middle" font-size="27" fill="#000">θ [ °C ]</text>
<line x1="199.1" y1="848.3" x2="199.1" y2="864.8" stroke="#000" stroke-width="2"/>
<text x="199.1" y="895.5" text-anchor="middle" font-size="27" fill="#000">36.8</text>
<line x1="316.8" y1="848.3" x2="316.8" y2="864.8" stroke="#000" stroke-width="2"/>
<text x="316.7500000000017" y="895.5" text-anchor="middle" font-size="27" fill="#000">37.0</text>
<line x1="434.4" y1="848.3" x2="434.4" y2="864.8" stroke="#000" stroke-width="2"/>
<text x="434.3999999999992" y="895.5" text-anchor="middle" font-size="27" fill="#000">37.2</text>
<line x1="552.1" y1="848.3" x2="552.1" y2="864.8" stroke="#000" stroke-width="2"/>
<text x="552.0500000000009" y="895.5" text-anchor="middle" font-size="27" fill="#000">37.4</text>
<text x="359.9" y="936.6" text-anchor="middle" font-size="27" fill="#000">Salinity</text>
<text x="155.6" y="536.8" text-anchor="middle" font-size="19" fill="#7a7a7a">24.3</text>
<text x="233.5" y="536.8" text-anchor="middle" font-size="19" fill="#7a7a7a">24.4</text>
<text x="311.4" y="536.8" text-anchor="middle" font-size="19" fill="#7a7a7a">24.5</text>
<text x="389.3" y="536.8" text-anchor="middle" font-size="19" fill="#7a7a7a">24.6</text>
<text x="467.20000000000005" y="536.8" text-anchor="middle" font-size="19" fill="#7a7a7a">24.7</text>
<text x="545.1" y="536.8" text-anchor="middle" font-size="19" fill="#7a7a7a">24.8</text>
<text transform="translate(632.5,611) rotate(-90)" text-anchor="middle" font-size="19" fill="#7a7a7a">24.9</text>
<clipPath id="c4"><rect x="783.7" y="543.6" width="496.5999999999999" height="304.4"/></clipPath>
<g clip-path="url(#c4)">
<polygon points="965.0,540.0 967.7,543.8 987.5,580.4 1021.1,602.2 1035.0,644.7 1076.5,656.2 1103.2,644.3 1125.0,587.4 1128.9,544.8 1129.0,540.0" fill="#d3d3d3"/>
<polygon points="918.0,850.0 921.3,847.5 939.3,838.1 949.0,839.0 965.5,839.8 998.2,843.4 1011.3,845.0 1055.5,845.5 1086.6,847.0 1090.0,850.0" fill="#d3d3d3"/>
<polygon points="1282.0,689.0 1279.5,690.9 1277.9,697.9 1274.8,704.0 1279.5,708.3 1282.0,709.0" fill="#d3d3d3"/>
</g>
<circle cx="1032" cy="695.8" r="7" fill="#ff0000"/>
<rect x="783.7" y="543.6" width="496.5999999999999" height="304.4" fill="none" stroke="#000" stroke-width="2.1"/>
<line x1="788.6" y1="848.0" x2="788.6" y2="864.5" stroke="#000" stroke-width="2"/>
<line x1="788.6" y1="527.1" x2="788.6" y2="543.6" stroke="#000" stroke-width="2"/>
<text x="788.6" y="896" text-anchor="middle" font-size="27" fill="#000">-84</text>
<line x1="962.6" y1="848.0" x2="962.6" y2="864.5" stroke="#000" stroke-width="2"/>
<line x1="962.6" y1="527.1" x2="962.6" y2="543.6" stroke="#000" stroke-width="2"/>
<text x="962.6" y="896" text-anchor="middle" font-size="27" fill="#000">-82</text>
<line x1="1136.8" y1="848.0" x2="1136.8" y2="864.5" stroke="#000" stroke-width="2"/>
<line x1="1136.8" y1="527.1" x2="1136.8" y2="543.6" stroke="#000" stroke-width="2"/>
<text x="1136.8" y="896" text-anchor="middle" font-size="27" fill="#000">-80</text>
<line x1="767.2" y1="568.3" x2="783.7" y2="568.3" stroke="#000" stroke-width="2"/>
<line x1="1280.3" y1="568.3" x2="1296.8" y2="568.3" stroke="#000" stroke-width="2"/>
<text transform="translate(755.3,568.3) rotate(-90)" text-anchor="middle" font-size="27" fill="#000">26</text>
<line x1="767.2" y1="664.4" x2="783.7" y2="664.4" stroke="#000" stroke-width="2"/>
<line x1="1280.3" y1="664.4" x2="1296.8" y2="664.4" stroke="#000" stroke-width="2"/>
<text transform="translate(755.3,664.4) rotate(-90)" text-anchor="middle" font-size="27" fill="#000">25</text>
<line x1="767.2" y1="760.3" x2="783.7" y2="760.3" stroke="#000" stroke-width="2"/>
<line x1="1280.3" y1="760.3" x2="1296.8" y2="760.3" stroke="#000" stroke-width="2"/>
<text transform="translate(755.3,760.3) rotate(-90)" text-anchor="middle" font-size="27" fill="#000">24</text>
<text x="785" y="520.6" text-anchor="start" font-size="27" fill="#000">16</text>
<text x="1280" y="520.6" text-anchor="end" font-size="27" fill="#000">2006-05-03 16:27:49</text>
</svg></body></html>
